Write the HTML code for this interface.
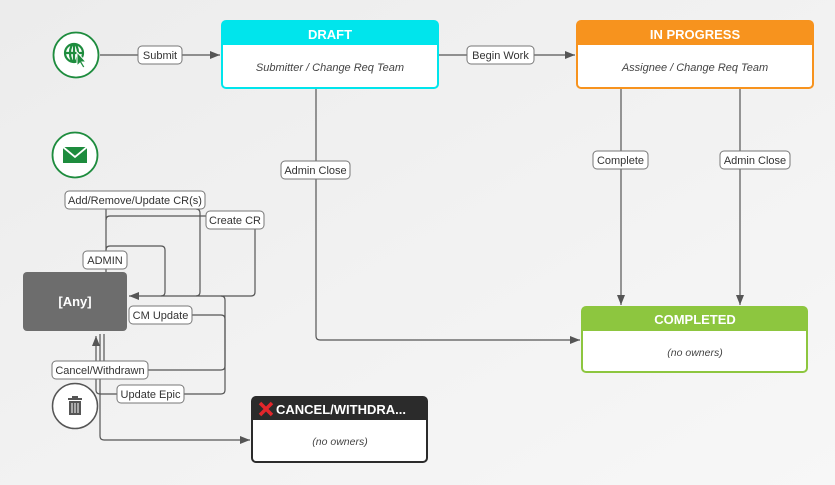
<!DOCTYPE html>
<html><head><meta charset="utf-8"><style>
html,body{margin:0;padding:0;width:835px;height:485px;overflow:hidden;background:#f2f2f2}
svg{display:block}
text{font-family:"Liberation Sans","DejaVu Sans",sans-serif}
</style></head><body>
<svg width="835" height="485" viewBox="0 0 835 485" xmlns="http://www.w3.org/2000/svg">
<defs>
<linearGradient id="bg" x1="0" y1="0" x2="1" y2="1"><stop offset="0" stop-color="#ececec"/><stop offset="1" stop-color="#f7f7f7"/></linearGradient>
<marker id="ar" markerWidth="10" markerHeight="8" refX="10" refY="4" orient="auto" markerUnits="userSpaceOnUse"><path d="M0,0 L10,4 L0,8 z" fill="#555"/></marker>
</defs>
<rect width="835" height="485" fill="url(#bg)"/>
<g fill="none" stroke="#555" stroke-width="1.2">
<path d="M100,55 H220" marker-end="url(#ar)"/>
<path d="M438,55 H575" marker-end="url(#ar)"/>
<path d="M316,88 V336 Q316,340 320,340 H580" marker-end="url(#ar)"/>
<path d="M621,88 V305" marker-end="url(#ar)"/>
<path d="M740,88 V305" marker-end="url(#ar)"/>
<path d="M106,272 V250 Q106,246 110,246 H161 Q165,246 165,250 V292 Q165,296 161,296"/>
<path d="M106,250 V220 Q106,216 110,216 H251 Q255,216 255,220 V292"/>
<path d="M106,220 V209"/>
<path d="M196,209 Q200,209 200,213 V292 Q200,296 196,296"/>
<path d="M221,296 Q225,296 225,300 V390 Q225,394 221,394 H184"/>
<path d="M255,292 Q255,296 251,296 H129" marker-end="url(#ar)"/>
<path d="M192,315 H221 Q225,315 225,319 V366 Q225,370 221,370 H148"/>
<path d="M104,334 V361"/>
<path d="M100,334 V361"/>
<path d="M117,394 H100 Q96,394 96,390 V336" marker-end="url(#ar)"/>
<path d="M100,379 V436 Q100,440 104,440 H250" marker-end="url(#ar)"/>
</g>
<circle cx="76" cy="55" r="22.5" fill="#fff" stroke="#1e8c3e" stroke-width="1.8"/>
<g stroke="#1e8c3e" stroke-width="2.2" fill="none"><circle cx="74" cy="53" r="9"/><path d="M65,53 H83 M74,44 V62"/><ellipse cx="74" cy="53" rx="4" ry="9"/></g>
<path d="M77,52 L77,66 L80,63 L83,68 L85,67 L82,62 L86,62 z" fill="#1e8c3e" stroke="#fff" stroke-width="1"/>
<circle cx="75" cy="155" r="22.5" fill="#fff" stroke="#1e8c3e" stroke-width="1.8"/>
<rect x="63" y="147" width="24" height="16" fill="#1e8c3e"/>
<path d="M63,147 L75,157 L87,147" fill="none" stroke="#fff" stroke-width="1.8"/>
<circle cx="75" cy="406" r="22.5" fill="#fff" stroke="#555" stroke-width="1.5"/>
<rect x="68" y="398" width="14" height="2" fill="#555"/><rect x="72" y="396" width="6" height="2" fill="#555"/>
<path d="M69,401 H81 V415 H69 z" fill="#555"/>
<path d="M72,403 V413 M75,403 V413 M78,403 V413" stroke="#fff" stroke-width="1"/>
<rect x="222" y="21" width="216" height="67" rx="4" fill="#fff" stroke="#00e5ec" stroke-width="2"/>
<path d="M222,45 V25 Q222,21 226,21 H434 Q438,21 438,25 V45 z" fill="#00e5ec"/>
<text x="330" y="39" text-anchor="middle" fill="#fff" font-weight="bold" font-size="13">DRAFT</text>
<text x="330" y="71" text-anchor="middle" fill="#444" font-style="italic" font-size="11">Submitter / Change Req Team</text>
<rect x="577" y="21" width="236" height="67" rx="4" fill="#fff" stroke="#f7931e" stroke-width="2"/>
<path d="M577,45 V25 Q577,21 581,21 H809 Q813,21 813,25 V45 z" fill="#f7931e"/>
<text x="695" y="39" text-anchor="middle" fill="#fff" font-weight="bold" font-size="13">IN PROGRESS</text>
<text x="695" y="71" text-anchor="middle" fill="#444" font-style="italic" font-size="11">Assignee / Change Req Team</text>
<rect x="582" y="307" width="225" height="65" rx="4" fill="#fff" stroke="#8dc63f" stroke-width="2"/>
<path d="M582,331 V311 Q582,307 586,307 H803 Q807,307 807,311 V331 z" fill="#8dc63f"/>
<text x="695" y="324" text-anchor="middle" fill="#fff" font-weight="bold" font-size="13">COMPLETED</text>
<text x="695" y="356" text-anchor="middle" fill="#444" font-style="italic" font-size="10.5">(no owners)</text>
<rect x="252" y="397" width="175" height="65" rx="4" fill="#fff" stroke="#2b2b2b" stroke-width="2"/>
<path d="M252,420 V401 Q252,397 256,397 H423 Q427,397 427,401 V420 z" fill="#2b2b2b"/>
<path d="M260,403 L272,415 M272,403 L260,415" stroke="#e3262b" stroke-width="3.5"/>
<text x="276" y="414" fill="#fff" font-weight="bold" font-size="13">CANCEL/WITHDRA...</text>
<text x="340" y="445" text-anchor="middle" fill="#444" font-style="italic" font-size="10.5">(no owners)</text>
<rect x="23" y="272" width="104" height="59" rx="4" fill="#6d6d6d"/>
<text x="75" y="306" text-anchor="middle" fill="#fff" font-weight="bold" font-size="13">[Any]</text>
<g font-size="11" fill="#333">
<g fill="#fff" stroke="#777" stroke-width="1">
<rect x="138" y="46" width="44" height="18" rx="4"/>
<rect x="467" y="46" width="67" height="18" rx="4"/>
<rect x="281" y="161" width="69" height="18" rx="4"/>
<rect x="593" y="151" width="55" height="18" rx="4"/>
<rect x="720" y="151" width="70" height="18" rx="4"/>
<rect x="65" y="191" width="140" height="18" rx="4"/>
<rect x="206" y="211" width="58" height="18" rx="4"/>
<rect x="83" y="251" width="44" height="18" rx="4"/>
<rect x="129" y="306" width="63" height="18" rx="4"/>
<rect x="52" y="361" width="96" height="18" rx="4"/>
<rect x="117" y="385" width="67" height="18" rx="4"/>
</g>
<text x="160" y="59" text-anchor="middle">Submit</text>
<text x="500.5" y="59" text-anchor="middle">Begin Work</text>
<text x="315.5" y="174" text-anchor="middle">Admin Close</text>
<text x="620.5" y="164" text-anchor="middle">Complete</text>
<text x="755" y="164" text-anchor="middle">Admin Close</text>
<text x="135" y="204" text-anchor="middle">Add/Remove/Update CR(s)</text>
<text x="235" y="224" text-anchor="middle">Create CR</text>
<text x="105" y="264" text-anchor="middle">ADMIN</text>
<text x="160.5" y="319" text-anchor="middle">CM Update</text>
<text x="100" y="374" text-anchor="middle">Cancel/Withdrawn</text>
<text x="150.5" y="398" text-anchor="middle">Update Epic</text>
</g>
</svg>
</body></html>
